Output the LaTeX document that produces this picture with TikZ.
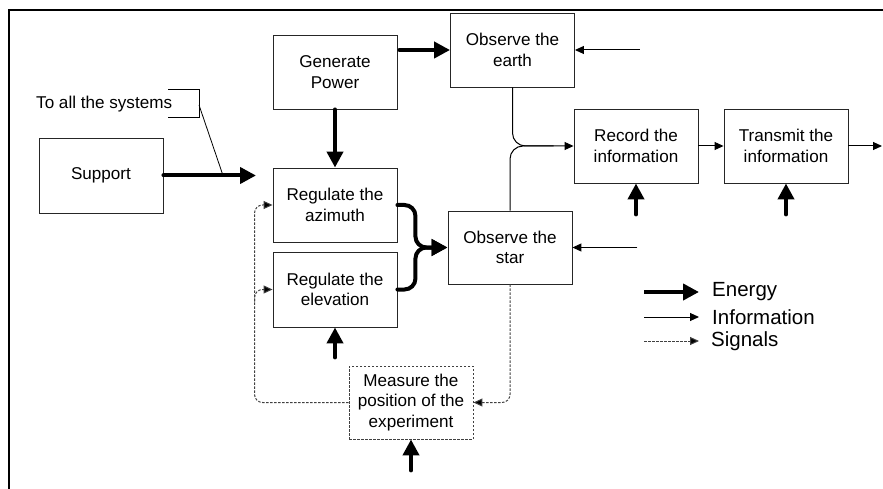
\documentclass[tikz,border=0pt]{standalone}
\usepackage{fontspec}
\setmainfont{Liberation Sans}
\usetikzlibrary{arrows.meta,calc}
\begin{document}
\begin{tikzpicture}[x=1pt,y=-1pt,
  box/.style={draw=black!85, line width=0.9pt, minimum width=124pt, minimum height=74pt,
    inner sep=0pt, align=center, font=\fontsize{17.1}{20.5}\selectfont},
  dbox/.style={box, draw=black!75, dash pattern=on 2.5pt off 1.5pt},
  energy/.style={line width=4pt, line cap=round, -{Triangle[length=16pt,width=16pt]}},
  info/.style={line width=1pt, -{Triangle[length=9pt,width=8pt]}},
  plain/.style={line width=1pt},
  signal/.style={line width=1pt, black!75, dash pattern=on 2.5pt off 1.5pt, -{Triangle[length=9pt,width=8pt,fill=black]}},
  legtext/.style={anchor=west, inner sep=0pt, font=\fontsize{20.5}{24}\selectfont},
  lbl/.style={anchor=west, inner sep=0pt, font=\fontsize{17.1}{20.5}\selectfont}
]
\useasboundingbox (0,0) rectangle (883,489);
% frame
\draw[line width=2.5pt] (883,10) -- (9,10) -- (9,489);

% boxes
\node[box] (gen) at (335,72) {Generate\\Power};
\node[box] (earth) at (512.5,50) {Observe the\\earth};
\node[box, minimum height=75pt] (support) at (101,175.5) {Support};
\node[box] (azi) at (335,205) {Regulate the\\azimuth};
\node[box, minimum height=75pt] (elev) at (335,289.5) {Regulate the\\elevation};
\node[box, minimum height=73pt] (star) at (510,247.5) {Observe the\\star};
\node[box] (rec) at (636,146) {Record the\\information};
\node[box] (trans) at (786,146) {Transmit the\\information};
\node[dbox, minimum height=73pt] (meas) at (411,402.5) {Measure the\\position of the\\experiment};

% "To all the systems" callout
\node[lbl] (toall) at (36,104) {To all the systems};
\draw[plain] (168,90) -- (199,90) -- (199,118) -- (168,118);
\coordinate (brk) at (199,105);
\coordinate (supend) at (256,175.5);
\coordinate (diagend) at (223,175.5);
\draw[line width=0.8pt] (brk) -- (diagend);

% energy
\draw[energy] (support.east) -- (supend);
\draw[energy] ($(gen.east |- earth.west)+(2,0)$) -- (earth.west);
\draw[energy] (gen.south) -- (azi.north);
\draw[energy, rounded corners=11pt] (azi.east) -- ++(18,0) |- (star.west);
\draw[energy, rounded corners=11pt] (elev.east) -- ++(18,0) |- (star.west);
\draw[energy] ($(elev.south)+(0,30)$) -- (elev.south);
\draw[energy] ($(meas.south)+(0,31)$) -- (meas.south);
\draw[energy] ($(rec.south)+(0,31)$) -- (rec.south);
\draw[energy] ($(trans.south)+(0,31)$) -- (trans.south);

% information
\draw[info, rounded corners=13pt] (earth.south) -- (earth.south |- rec.west) -- (rec.west);
\draw[plain, rounded corners=13pt] (star.north) -- (star.north |- rec.west) -- ($(rec.west)+(-20,0)$);
\draw[info] (rec.east) -- (trans.west);
\coordinate (out) at (882,146);
\draw[info] (trans.east) -- (out);
\draw[info] ($(earth.east)+(65,0)$) -- (earth.east);
\draw[info] ($(star.east)+(65,0)$) -- (star.east);

% signals
\draw[signal, rounded corners=8pt] (meas.west) -| ($(azi.west)+(-18,0)$) -- (azi.west);
\draw[signal, rounded corners=8pt] ($(elev.west)+(-18,12)$) -- ($(elev.west)+(-18,0)$) -- (elev.west);
\draw[signal, rounded corners=8pt] (star.south) |- (meas.east);

% legend
\coordinate (e1) at (644,292); \coordinate (e2) at (699,292);
\coordinate (i1) at (644,317); \coordinate (i2) at (699,317);
\coordinate (s1) at (644,341); \coordinate (s2) at (699,341);
\draw[energy, line cap=butt] (e1) -- (e2);
\draw[info] (i1) -- (i2);
\draw[signal] (s1) -- (s2);
\node[legtext] (le) at (712,292) {Energy};
\node[legtext] (li) at (712,317) {Information};
\node[legtext] (ls) at (711,341) {Signals};
\end{tikzpicture}
\end{document}
